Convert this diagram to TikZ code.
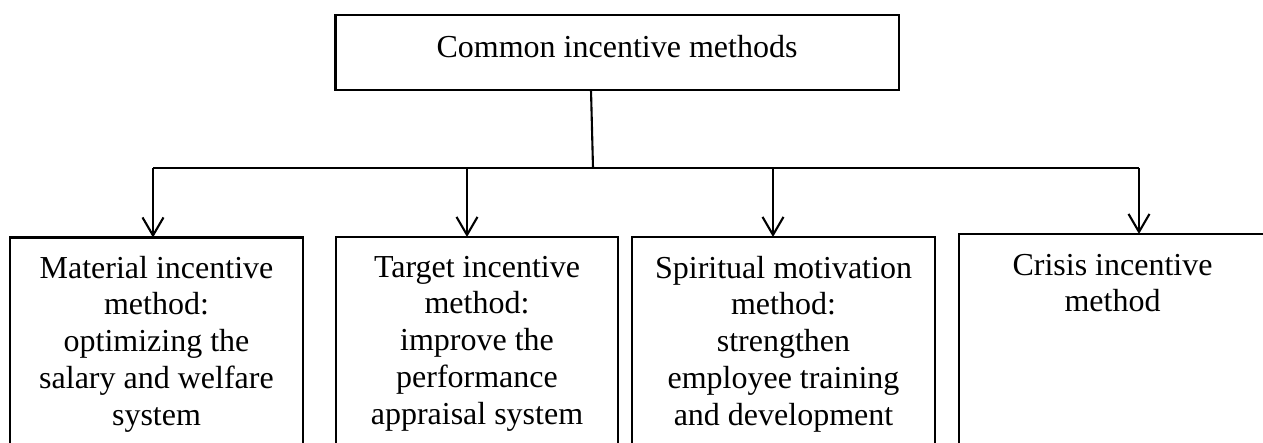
\documentclass[tikz,border=0pt]{standalone}
\usepackage{fontspec}
\setmainfont{Liberation Serif}
\usetikzlibrary{arrows.meta}
\begin{document}
\begin{tikzpicture}[x=1pt,y=-1pt,
  line width=2.1pt,
  boxshape/.style={draw, rectangle, inner sep=0pt, outer sep=0pt, anchor=north west},
  txt/.style={align=center, inner sep=0pt, font={\fontsize{32pt}{36.7pt}\selectfont}},
  arr/.style={-{Straight Barb[length=18pt,width=21pt,line width=2.1pt]}}]
\useasboundingbox (0,0) rectangle (1263,442);
\node[boxshape, minimum width=563.5pt, minimum height=75pt] (top) at (335.5,15) {};
\node[txt, anchor=base] (toptext) at (617,57) {Common incentive methods};
\node[boxshape, minimum width=293pt, minimum height=230pt] (b1) at (10,237.5) {};
\node[boxshape, minimum width=282pt, minimum height=230pt] (b2) at (336,237) {};
\node[boxshape, minimum width=303pt, minimum height=230pt] (b3) at (632,237) {};
\node[boxshape, minimum width=307pt, minimum height=230pt] (b4) at (959,234) {};
\node[txt, anchor=north] (t1) at (b1.north |- 0,255) {Material incentive\\method:\\optimizing the\\salary and welfare\\system};
\node[txt, anchor=north] (t2) at (b2.north |- 0,255) {Target incentive\\method:\\improve the\\performance\\appraisal system};
\node[txt, anchor=north] (t3) at (b3.north |- 0,255) {Spiritual motivation\\method:\\strengthen\\employee training\\and development};
\node[txt, anchor=north] (t4) at (b4.north |- 0,253) {Crisis incentive\\method};
\coordinate (j) at (593,168);
\coordinate (hl) at (153,168);
\coordinate (hr) at (1139,168);
\coordinate (a2) at (467,168);
\coordinate (a3) at (773,168);
\draw ([xshift=-26.25pt]top.south) -- (j);
\draw (hl) -- (hr);
\draw[arr] (hl) -- (hl |- b1.north);
\draw[arr] (a2) -- (a2 |- b2.north);
\draw[arr] (a3) -- (a3 |- b3.north);
\draw[arr] (hr) -- (hr |- b4.north);
\end{tikzpicture}
\end{document}
